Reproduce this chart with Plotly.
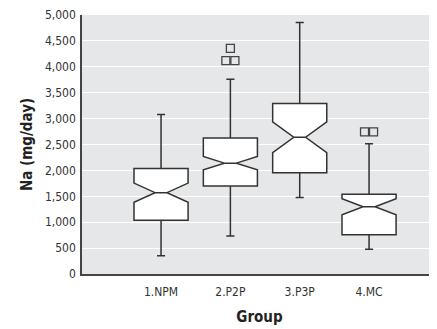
import plotly.graph_objects as go
from collections import Counter

groups = ["1.NPM", "2.P2P", "3.P3P", "4.MC"]
lower_whisker = [350, 735, 1475, 480]
q1 = [1040, 1700, 1955, 760]
median = [1570, 2140, 2640, 1297]
q3 = [2037, 2625, 3290, 1538]
upper_whisker = [3080, 3760, 4855, 2515]
notch_half = [185, 128, 297, 155]
outliers = {"2.P2P": [4355, 4120, 4120], "4.MC": [2745, 2745]}
y_ticks = [0, 500, 1000, 1500, 2000, 2500, 3000, 3500, 4000, 4500, 5000]

pos = list(range(len(groups)))
fig = go.Figure()
fig.add_trace(go.Box(
    x=pos, q1=q1, median=median, q3=q3,
    lowerfence=lower_whisker, upperfence=upper_whisker,
    notched=True, notchspan=notch_half, notchwidth=0.39,
    width=0.78, whiskerwidth=0.15,
    fillcolor="white", line=dict(color="#333333", width=1.5),
    boxpoints=False, showlegend=False, hoverinfo="skip",
))

ox, oy = [], []
for g, vals in outliers.items():
    xi = groups.index(g)
    cnt = Counter(vals)
    for v, n in cnt.items():
        for k in range(n):
            ox.append(xi + (k - (n - 1) / 2) * 0.13)
            oy.append(v)
fig.add_trace(go.Scatter(
    x=ox, y=oy, mode="markers",
    marker=dict(symbol="square-open", size=8, color="#444444", line=dict(width=1.3)),
    showlegend=False, hoverinfo="skip",
))

font = "DejaVu Sans Condensed"
fig.update_layout(
    width=429, height=323,
    margin=dict(l=74, r=0, t=7, b=57),
    paper_bgcolor="white", plot_bgcolor="#e6e7e9",
    font=dict(family=font, size=12, color="#222222"),
    xaxis=dict(
        range=[-1.14, 3.98], tickvals=pos, ticktext=groups, automargin=False,
        showgrid=False, zeroline=False, showline=True, linecolor="#444444", linewidth=1.5,
        ticks="", ticklabelstandoff=6, tickfont=dict(size=12, color="#333333"),
        title=dict(text="<b>Group</b>", font=dict(size=15, color="#222222"), standoff=13),
    ),
    yaxis=dict(
        range=[0, 5000], tickvals=y_ticks, tickformat=",d", automargin=False,
        showgrid=True, gridcolor="white", gridwidth=1.2, zeroline=False,
        showline=True, linecolor="#444444", linewidth=1.5,
        ticks="", ticklabelstandoff=2, ticklabeloverflow="allow",
        tickfont=dict(size=12, color="#333333"),
        title=dict(text="<b>Na (mg/day)</b>", font=dict(size=15, color="#222222"), standoff=9),
    ),
)
fig.write_html("out.html")
